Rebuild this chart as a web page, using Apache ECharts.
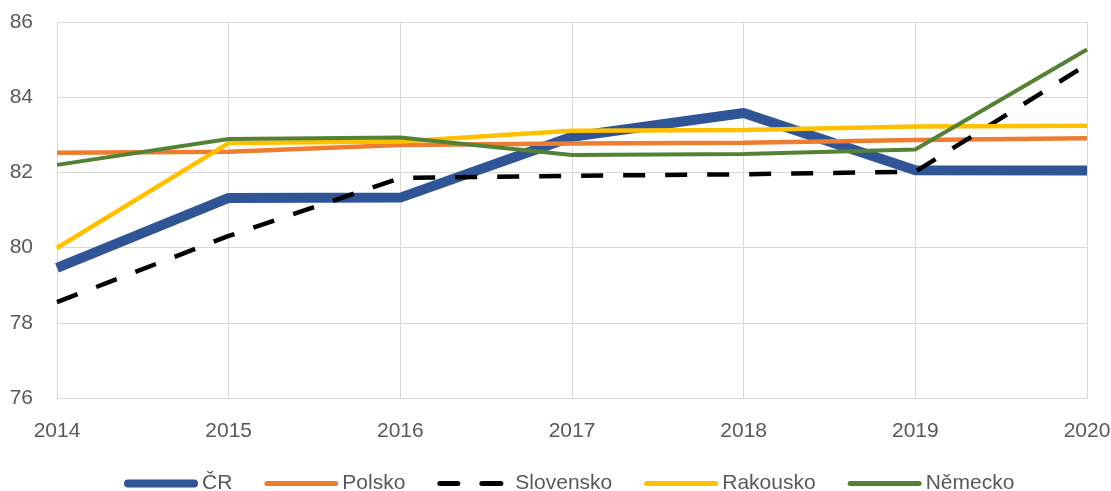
<!DOCTYPE html>
<html>
<head>
<meta charset="utf-8">
<script src="https://cdn.jsdelivr.net/npm/echarts@6/dist/echarts.min.js"></script>
<style>
  html, body { margin: 0; padding: 0; background: #fff; }
  #chart { width: 1111px; height: 491px; }
</style>
</head>
<body>
<div id="chart"></div>
<script>
var years = ['2014', '2015', '2016', '2017', '2018', '2019', '2020']
var cr = [79.46, 81.32, 81.33, 82.95, 83.58, 82.06, 82.05]
var polsko = [82.52, 82.55, 82.73, 82.77, 82.79, 82.86, 82.91]
var slovensko = [78.55, 80.31, 81.85, 81.91, 81.95, 82.02, 84.87]
var rakousko = [79.99, 82.78, 82.82, 83.11, 83.13, 83.22, 83.24]
var nemecko = [82.2, 82.89, 82.93, 82.46, 82.49, 82.61, 85.27]

var font = 'Liberation Sans'
var myChart = echarts.init(document.getElementById('chart'))

// legend icons, drawn in a 74 x 8 box
var iconThick = 'path://M4,0 H70 A4,4 0 0 1 70,8 H4 A4,4 0 0 1 4,0 Z'
var iconThin = 'path://M0,0 M74,8 M2.5,1.5 H71.5 A2.5,2.5 0 0 1 71.5,6.5 H2.5 A2.5,2.5 0 0 1 2.5,1.5 Z'
var iconDash = 'path://M0,0 M74,8 M2.5,1.5 H20.5 A2.5,2.5 0 0 1 20.5,6.5 H2.5 A2.5,2.5 0 0 1 2.5,1.5 Z ' +
    'M44.5,1.5 H63.5 A2.5,2.5 0 0 1 63.5,6.5 H44.5 A2.5,2.5 0 0 1 44.5,1.5 Z'

function line(name, data, color, width, type) {
    return {
        name: name,
        type: 'line',
        data: data,
        symbol: 'none',
        lineStyle: { color: color, width: width, type: type || 'solid' },
        itemStyle: { color: color }
    }
}

var option = {
    animation: false,
    grid: { left: 57, right: 24, top: 22, bottom: 93, outerBoundsMode: 'none' },
    legend: {
        top: 468,
        left: 119,
        itemWidth: 74,
        itemHeight: 8,
        itemGap: 32,
        itemStyle: { borderWidth: 0 },
        textStyle: { fontFamily: font, fontSize: 21, color: '#595959', padding: [0, 0, 0, -1] },
        data: [
            { name: 'ČR', icon: iconThick },
            { name: 'Polsko', icon: iconThin },
            { name: 'Slovensko', icon: iconDash },
            { name: 'Rakousko', icon: iconThin },
            { name: 'Německo', icon: iconThin }
        ]
    },
    xAxis: {
        type: 'category',
        data: years,
        boundaryGap: false,
        axisLine: { lineStyle: { color: '#d9d9d9', width: 1 } },
        axisTick: { show: false },
        splitLine: { show: true, lineStyle: { color: '#d9d9d9', width: 1 } },
        axisLabel: { fontFamily: font, fontSize: 21, color: '#595959', margin: 23 }
    },
    yAxis: {
        type: 'value',
        min: 76,
        max: 86,
        interval: 2,
        axisLine: { show: false },
        axisTick: { show: false },
        splitLine: { lineStyle: { color: '#d9d9d9', width: 1 } },
        axisLabel: { fontFamily: font, fontSize: 21, color: '#595959', margin: 24 }
    },
    series: [
        line('ČR', cr, '#2f5597', 10),
        line('Polsko', polsko, '#ed7d31', 4.5),
        line('Slovensko', slovensko, '#000000', 4.5, [22, 20]),
        line('Rakousko', rakousko, '#ffc000', 4.5),
        line('Německo', nemecko, '#548235', 4)
    ]
}

myChart.setOption(option)
</script>
</body>
</html>
